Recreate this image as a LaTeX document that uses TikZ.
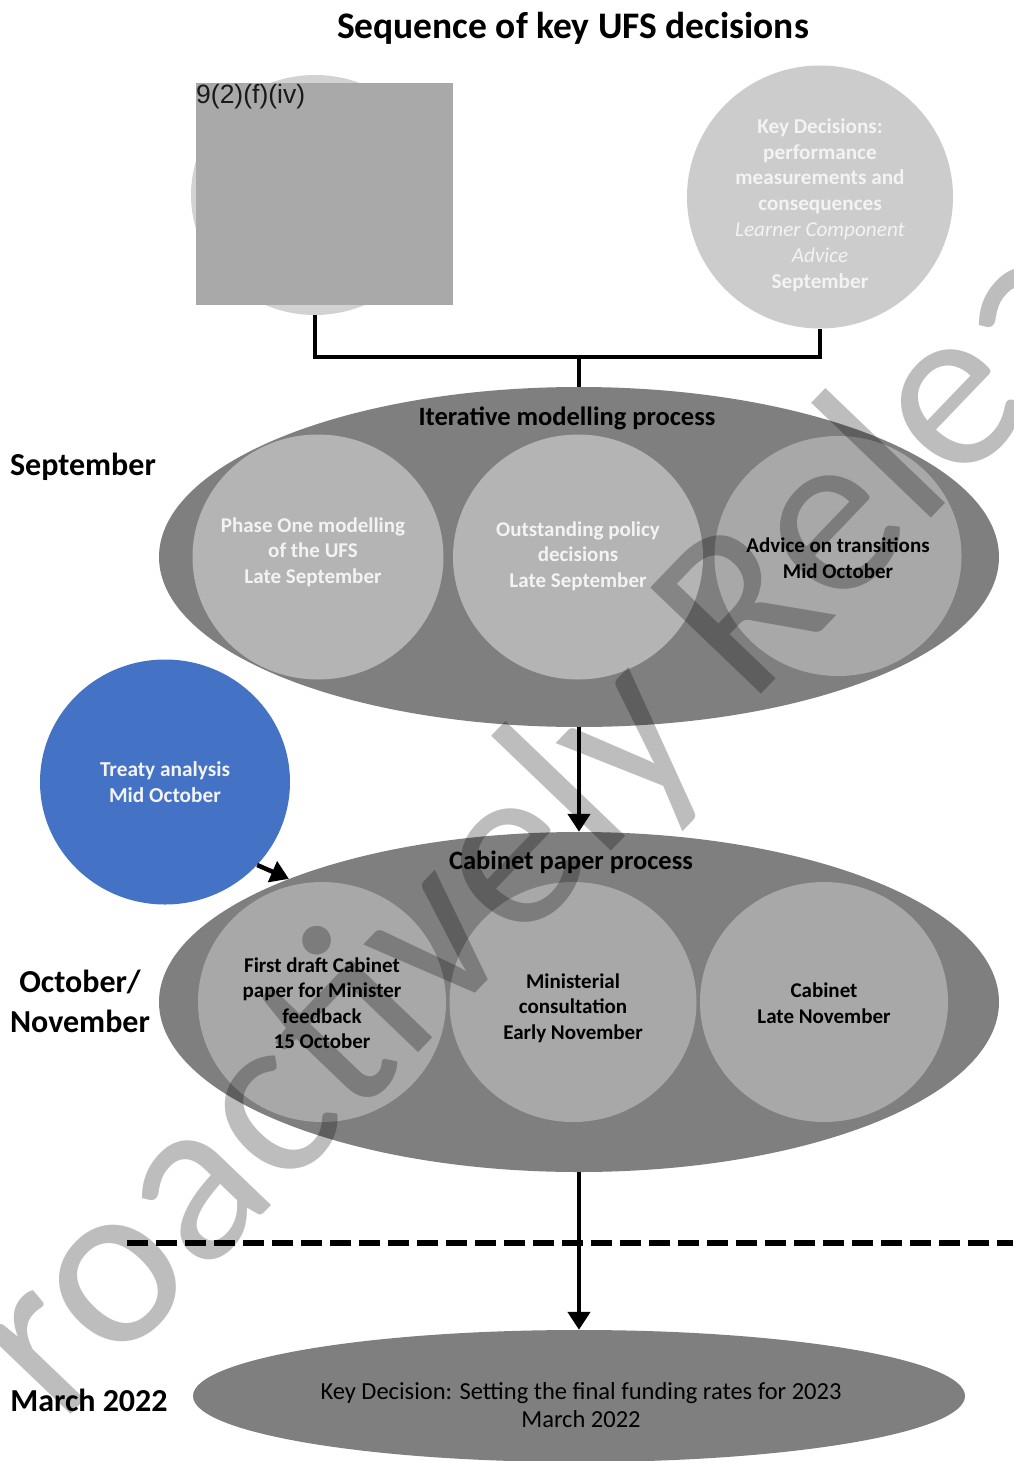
\documentclass[tikz,border=0pt]{standalone}
\usepackage{fontspec}
\setmainfont{Carlito}
\newfontfamily\arialf{Liberation Sans}
\usetikzlibrary{shapes.geometric,arrows.meta}
\definecolor{ellgray}{HTML}{7F7F7F}
\definecolor{circA}{HTML}{B4B4B4}
\definecolor{circB}{HTML}{A8A8A8}
\definecolor{topcirc}{HTML}{CCCCCC}
\definecolor{phcirc}{HTML}{D2D2D2}
\definecolor{phrect}{HTML}{A9A9A9}
\definecolor{blueC}{HTML}{4472C4}
\definecolor{wtxt}{HTML}{F3F3F3}
\begin{document}
\begin{tikzpicture}[x=1pt,y=-1pt,
  bigell/.style={ellipse, fill=ellgray, draw=none, inner sep=0pt, minimum width=840pt, minimum height=340pt},
  incirc/.style={ellipse, draw=none, inner sep=0pt},
  intext/.style={align=center, inner sep=0pt, font=\fontsize{21}{25.5}\selectfont\bfseries},
  sidelabel/.style={font=\fontsize{32}{40}\selectfont\bfseries, align=center},
  grouptitle/.style={font=\fontsize{26.5}{30}\selectfont\bfseries},
  conn/.style={line width=4.5pt},
  arr/.style={line width=4.5pt, -{Triangle[length=18pt,width=22pt]}},
  wm/.style={font=\fontsize{239}{239}\selectfont, text=black, text opacity=0.26, inner sep=0pt}
]
\useasboundingbox (0,0) rectangle (1013,1461);
\fill[white] (0,0) rectangle (1013,1461);

% title
\node (title) at (573,28) {\fontsize{37.5}{42}\selectfont\bfseries Sequence of key UFS decisions};

% top left placeholder (redacted)
\node[ellipse, fill=phcirc, inner sep=0pt, minimum width=248pt, minimum height=240pt] (pl) at (315,195) {};
\fill[phrect] (196,83) rectangle (453,305);
\node[anchor=north west, inner sep=0pt, font=\arialf\fontsize{26.5}{28}\selectfont, text=black!90] (red) at (196,84) {9(2)(f)(iv)};

% top right key decisions
\node[ellipse, fill=topcirc, inner sep=0pt, minimum width=266pt, minimum height=263pt] (kd) at (820,197) {};
\node[align=center, inner sep=0pt, text=wtxt, font=\fontsize{21.2}{25.8}\selectfont] (kdt) at (820,205)
  {\bfseries Key Decisions:\\ \bfseries performance\\ \bfseries measurements and\\ \bfseries consequences\\
   \itshape Learner Component\\ \itshape Advice\\ \bfseries September};

% connector
\coordinate (jn) at (579,357);
\draw[conn] (pl.south) -- (pl.south |- jn) -| (kd.south);

% iterative modelling process
\node[bigell] (e1) at (579,557) {};
\draw[conn] (jn) -- (e1.north);
\node[incirc, fill=circA, minimum width=251pt, minimum height=245pt] (c11) at (318,557) {};
\node[intext, text=wtxt] (c11t) at (313,552) {Phase One modelling\\ of the UFS\\ Late September};
\node[incirc, fill=circA, minimum width=250pt, minimum height=245pt] (c12) at (578,557) {};
\node[intext, text=wtxt] (c12t) at (578,556) {Outstanding policy\\ decisions\\ Late September};
\node[incirc, fill=circB, minimum width=247pt, minimum height=240pt] (c13) at (838,556) {};
\node[intext, text=black] (c13t) at (838,558) {Advice on transitions\\ Mid October};
\node[grouptitle] (t1) at (567,418) {Iterative modelling process};

\node[sidelabel] (lsep) at (83,467) {September};

% cabinet paper process
\node[bigell] (e2) at (579,1002) {};
\draw[arr] (e1.south) -- (e2.north);
\node[incirc, fill=circB, minimum width=248pt, minimum height=240pt] (c21) at (322,1002) {};
\node[intext, text=black] (c21t) at (322,1003) {First draft Cabinet\\ paper for Minister\\ feedback\\ 15 October};
\node[incirc, fill=circB, minimum width=247pt, minimum height=240pt] (c22) at (573,1002) {};
\node[intext, text=black] (c22t) at (573,1008) {Ministerial\\ consultation\\ Early November};
\node[incirc, fill=circB, minimum width=248pt, minimum height=240pt] (c23) at (824,1002) {};
\node[intext, text=black] (c23t) at (824,1003) {Cabinet\\ Late November};
\node[grouptitle] (t2) at (571,862) {Cabinet paper process};

\node[sidelabel] (loct) at (80,1001) {October/\\ November};

% treaty analysis
\node[ellipse, fill=blueC, inner sep=0pt, minimum width=250pt, minimum height=245pt, align=center,
      text=wtxt, font=\fontsize{21.3}{25.8}\selectfont\bfseries] (treaty) at (165,782)
  {Treaty analysis\\ Mid October};
\draw[arr] (treaty.-42) -- (e2.157.6);

% dashed separator
\coordinate (dl) at (127,1243);
\coordinate (dr) at (1013,1243);
\draw[line width=6pt, dash pattern=on 21pt off 8pt] (dl) -- (dr);

% final decision
\node[ellipse, fill=ellgray, inner sep=0pt, minimum width=772pt, minimum height=132pt] (e3) at (579,1396) {};
\draw[arr] (e2.south) -- (e3.north);
\node[align=center, font=\fontsize{24.5}{28}\selectfont] (t3) at (581,1405)
  {Key Decision: Setting the final funding rates for 2023\\ March 2022};
\node[sidelabel] (lmar) at (89,1400) {March 2022};

% watermark
\begin{scope}
\clip (0,0) rectangle (1013,1461);
\node[wm, rotate=46.2, anchor=base west] (wmk) at (-25,1515) {Proactively Released};
\end{scope}
\end{tikzpicture}
\end{document}
